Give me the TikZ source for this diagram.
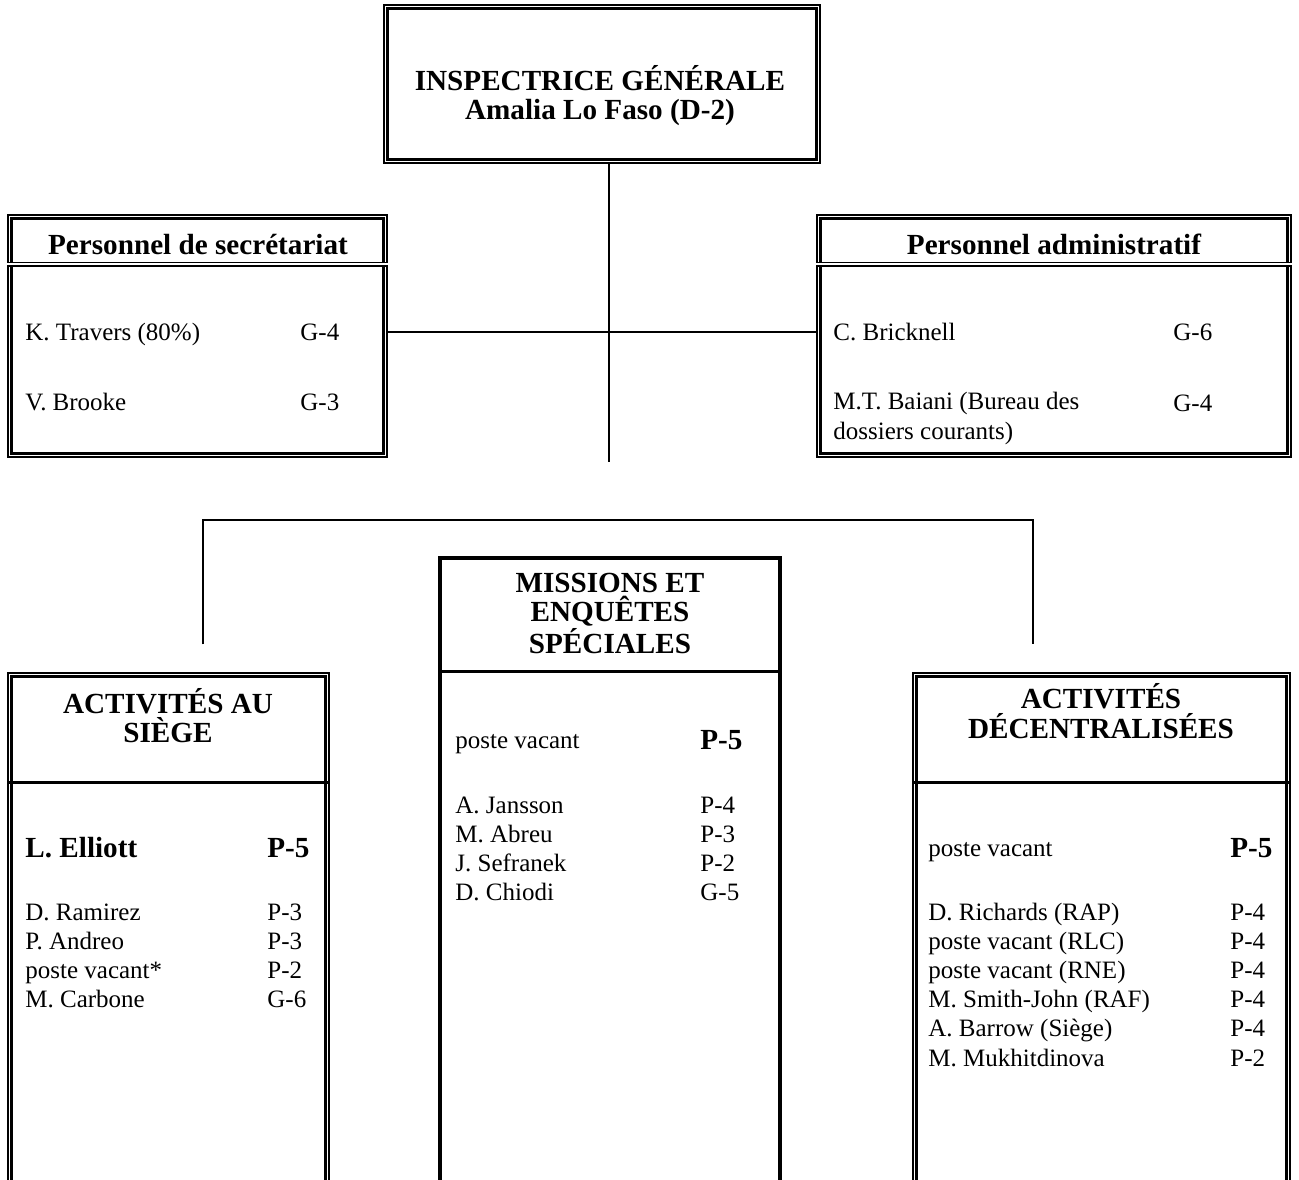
\documentclass[tikz,border=0pt]{standalone}
\usepackage{fontspec}
\setmainfont{Liberation Serif}
\usetikzlibrary{fit, calc, positioning}

\begin{document}
\begin{tikzpicture}[
    x=0.48pt, y=-0.48pt,
    dblbox/.style={draw, line width=0.7pt, inner sep=0pt,
      path picture={\draw[line width=1.2pt]
        ([shift={(1.6pt,-1.6pt)}]path picture bounding box.north west) rectangle
        ([shift={(-1.6pt,1.6pt)}]path picture bounding box.south east);}},
    sglbox/.style={draw, line width=1.5pt, inner sep=0pt},
    sepdbl/.style={double, line width=0.8pt, double distance=0.8pt},
    sepsgl/.style={line width=1.5pt},
    hdtxt/.style={font=\fontsize{14}{14}\selectfont\bfseries, align=center, inner sep=0pt, anchor=base},
    row/.style={font=\fontsize{12}{14}\selectfont, align=left, inner sep=0pt, anchor=base west},
    rowbf/.style={font=\fontsize{14}{14}\selectfont\bfseries, inner sep=0pt, anchor=base west},
    conn/.style={line width=1pt},
]
\clip (0,0) rectangle (1299,1180);
\fill[white] (0,0) rectangle (1299,1180);

% Inspectrice generale (multi-line nodes sit on their last baseline)
\node[dblbox, fit={(384,5) (820,163)}] (ig) {};
\node[hdtxt] (igtxt) at (600,119.5) {INSPECTRICE GÉNÉRALE\\Amalia Lo Faso (D-2)};
\coordinate (trunk) at (609,462);
\draw[conn] (ig.south -| trunk) -- (trunk);

% Personnel de secretariat
\node[dblbox, fit={(8,215) (387,457)}] (sec) {};
\draw[sepdbl] ($(sec.north west)+(0,50)$) -- ($(sec.north east)+(0,50)$);
\node[hdtxt] (sechd) at (198,254.5) {Personnel de secrétariat};
\node[row] (secn1) at (25,340) {K. Travers (80\%)};
\node[row] (secg1) at (300,340) {G-4};
\node[row] (secn2) at (25,410) {V. Brooke};
\node[row] (secg2) at (300,410) {G-3};

% Personnel administratif
\node[dblbox, fit={(817,215) (1291,457)}] (adm) {};
\draw[sepdbl] ($(adm.north west)+(0,50)$) -- ($(adm.north east)+(0,50)$);
\node[hdtxt] (admhd) at (1054,254.5) {Personnel administratif};
\node[row] (admn1) at (833,340) {C. Bricknell};
\node[row] (admg1) at (1173,340) {G-6};
\node[row] (admn2) at (833,439) {M.T. Baiani (Bureau des\\dossiers courants)};
\node[row] (admg2) at (1173,411) {G-4};

\coordinate (cross) at (609,332);
\draw[conn] (sec.east |- cross) -- (adm.west |- cross);

% Activites au siege
\node[dblbox, fit={(8,673) (329,1200)}] (siege) {};
\draw[sepsgl] ($(siege.north west)+(0,110)$) -- ($(siege.north east)+(0,110)$);
\node[hdtxt] (siegehd) at (168,742.5) {ACTIVITÉS AU\\SIÈGE};
\node[rowbf] (siegechef) at (25,857.5) {L. Elliott};
\node[rowbf] (siegechefg) at (267,857.5) {P-5};
\node[row] (siegenoms) at (25,1007.5) {D. Ramirez\\P. Andreo\\poste vacant*\\M. Carbone};
\node[row] (siegegrades) at (267,1007.5) {P-3\\P-3\\P-2\\G-6};

% Missions et enquetes speciales
\node[sglbox, fit={(440,558) (780,1200)}] (miss) {};
\draw[sepsgl] ($(miss.north west)+(0,115)$) -- ($(miss.north east)+(0,115)$);
\node[hdtxt] (misshd) at (610,653) {MISSIONS ET\\ENQUÊTES\\SPÉCIALES};
\node[row] (misschef) at (455,748) {poste vacant};
\node[rowbf] (misschefg) at (700,749.5) {P-5};
\node[row] (missnoms) at (455,900.5) {A. Jansson\\M. Abreu\\J. Sefranek\\D. Chiodi};
\node[row] (missgrades) at (700,900.5) {P-4\\P-3\\P-2\\G-5};

% Activites decentralisees
\node[dblbox, fit={(913,673) (1290,1200)}] (decent) {};
\draw[sepsgl] ($(decent.north west)+(0,110)$) -- ($(decent.north east)+(0,110)$);
\node[hdtxt] (decenthd) at (1101,738) {ACTIVITÉS\\DÉCENTRALISÉES};
\node[row] (decentchef) at (928,856) {poste vacant};
\node[rowbf] (decentchefg) at (1230,857.5) {P-5};
\node[row] (decentnoms) at (928,1066) {D. Richards (RAP)\\poste vacant (RLC)\\poste vacant (RNE)\\M. Smith-John (RAF)\\A. Barrow (Siège)\\M. Mukhitdinova};
\node[row] (decentgrades) at (1230,1066) {P-4\\P-4\\P-4\\P-4\\P-4\\P-2};

% Connections
\coordinate (barl) at (203,520);
\coordinate (barr) at (1033,520);
\draw[conn] ($(siege.north -| barl)+(0,-28)$) -- (barl) -- (barr) -- ($(decent.north -| barr)+(0,-28)$);

\end{tikzpicture}
\end{document}
